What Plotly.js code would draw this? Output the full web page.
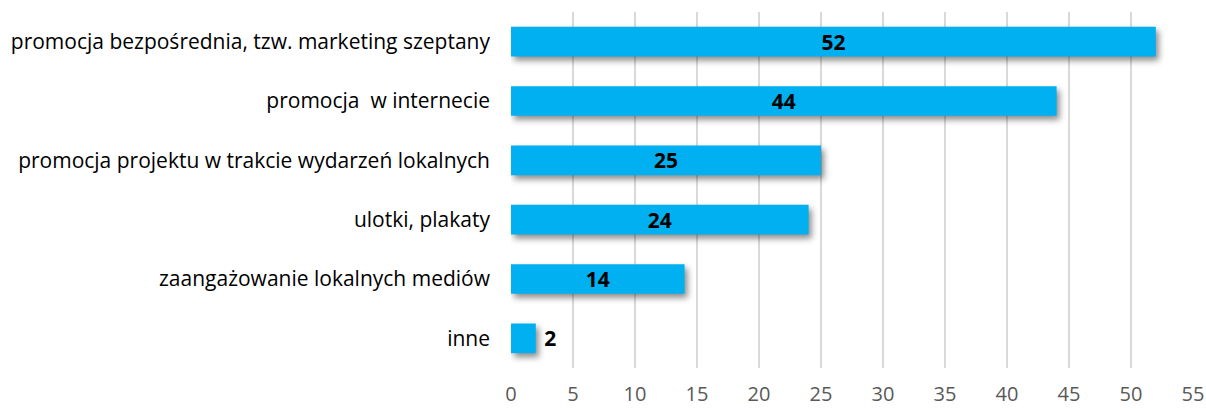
<!DOCTYPE html>
<html><head><meta charset="utf-8">
<script src="https://cdn.plot.ly/plotly-3.0.1.min.js"></script>
<style>
html,body{margin:0;padding:0;background:#fff;}
#chart{width:1206px;height:409px;}
g.point path{filter:drop-shadow(3px 4px 3px rgba(0,0,0,0.45));}
</style></head>
<body><div id="chart"></div>
<script>
var categories = [
  "promocja bezpośrednia, tzw. marketing szeptany",
  "promocja  w internecie",
  "promocja projektu w trakcie wydarzeń lokalnych",
  "ulotki, plakaty",
  "zaangażowanie lokalnych mediów",
  "inne"
];
var values = [52, 44, 25, 24, 14, 2];
var tickVals = [0,5,10,15,20,25,30,35,40,45,50,55];

var FONT = "'Open Sans', sans-serif";
var LABELFONT = {family: FONT, size: 21, color: "#000000", weight: "bold"};
var trace = {
  type: "bar",
  orientation: "h",
  y: categories,
  x: values,
  marker: {color: "#00B0F0"},
  text: values.map(function(v){ return v < 5 ? "\u00a0" + v : String(v); }),
  textposition: values.map(function(v){ return v < 5 ? "outside" : "inside"; }),
  textangle: 0,
  insidetextanchor: "middle",
  constraintext: "none",
  textfont: LABELFONT,
  outsidetextfont: LABELFONT,
  insidetextfont: LABELFONT,
  cliponaxis: false,
  hoverinfo: "none"
};
var layout = {
  width: 1206, height: 409,
  margin: {l: 511, r: 13, t: 12, b: 41},
  paper_bgcolor: "#ffffff", plot_bgcolor: "#ffffff",
  bargap: 0.5,
  showlegend: false,
  font: {family: FONT, size: 21, color: "#000000"},
  xaxis: {
    range: [0, 55], tickvals: tickVals, ticktext: tickVals.map(String),
    showgrid: true, gridcolor: "#D9D9D9", gridwidth: 2,
    zeroline: false, showline: false, ticks: "",
    tickfont: {family: FONT, size: 20, color: "#595959"},
    ticklabelstandoff: 12, fixedrange: true
  },
  yaxis: {
    autorange: "reversed", showgrid: false, zeroline: false, showline: false,
    ticks: "", ticklabelstandoff: 20,
    tickfont: {family: FONT, size: 21, color: "#000000"}, fixedrange: true
  }
};
Plotly.newPlot("chart", [trace], layout, {displayModeBar: false, staticPlot: true});
</script></body></html>
